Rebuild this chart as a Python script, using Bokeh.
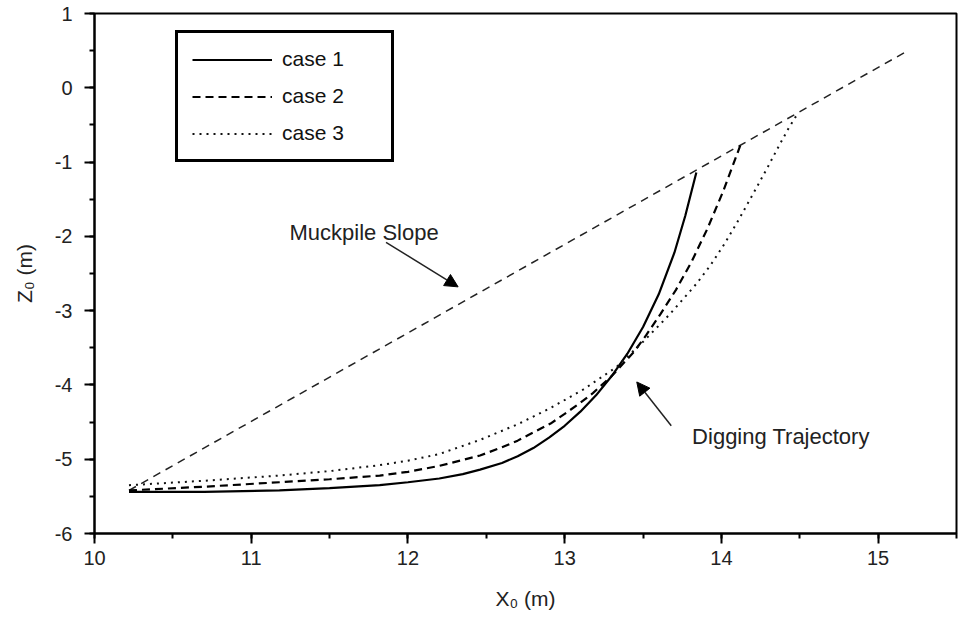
from bokeh.plotting import figure
from bokeh.models import (Range1d, SingleIntervalTicker, Legend, LegendItem,
                          Arrow, NormalHead, ColumnDataSource, PrintfTickFormatter)
from bokeh.core.properties import value
from bokeh.embed import file_html
from bokeh.resources import INLINE

# ---------------- data ----------------
case1_x = [10.22, 10.7, 11.18, 11.5, 11.82, 12.0, 12.2, 12.35, 12.46, 12.6, 12.7, 12.8,
           12.9, 13.0, 13.1, 13.2, 13.3, 13.4, 13.5, 13.6, 13.7, 13.77, 13.84]
case1_z = [-5.44, -5.44, -5.42, -5.39, -5.35, -5.31, -5.26, -5.20, -5.14, -5.05, -4.96, -4.85,
           -4.71, -4.55, -4.36, -4.14, -3.88, -3.58, -3.22, -2.78, -2.22, -1.72, -1.14]

case2_x = [10.22, 10.7, 11.18, 11.5, 11.82, 12.0, 12.2, 12.46, 12.6, 12.7, 12.8,
           12.91, 13.0, 13.1, 13.18, 13.3, 13.44, 13.52, 13.61, 13.71, 13.81, 13.91,
           14.01, 14.12]
case2_z = [-5.42, -5.37, -5.31, -5.27, -5.22, -5.17, -5.09, -4.95, -4.84, -4.75, -4.64,
           -4.52, -4.39, -4.24, -4.11, -3.88, -3.56, -3.33, -3.05, -2.72, -2.34, -1.90,
           -1.40, -0.78]

case3_x = [10.22, 10.7, 11.18, 11.5, 11.82, 12.0, 12.2, 12.46, 12.7, 12.91, 13.12,
           13.33, 13.5, 13.67, 13.84, 13.93, 14.02, 14.12, 14.22, 14.30, 14.37, 14.43, 14.48]
case3_z = [-5.35, -5.29, -5.22, -5.16, -5.08, -5.02, -4.93, -4.74, -4.53, -4.31, -4.06,
           -3.76, -3.42, -3.05, -2.64, -2.39, -2.10, -1.74, -1.36, -1.05, -0.77, -0.54, -0.37]

slope_x = [10.22, 15.19]
slope_z = [-5.42, 0.50]

series_names = ["case 1", "case 2", "case 3"]

ann_text = ["Muckpile Slope", "Digging Trajectory"]
ann_x = [11.72, 14.38]
ann_z = [-1.95, -4.70]
arrow_x0 = [11.86, 13.68]
arrow_z0 = [-2.08, -4.55]
arrow_x1 = [12.32, 13.46]
arrow_z1 = [-2.68, -3.96]

x_limits = (10, 15.5)
z_limits = (-6, 1)

FONT = "Liberation Sans"

p = figure(width=959, height=623, output_backend="svg", toolbar_location=None,
           x_range=Range1d(*x_limits), y_range=Range1d(*z_limits),
           min_border_left=94, min_border_right=3, min_border_top=13,
           min_border_bottom=90)
p.background_fill_color = "white"
p.border_fill_color = "white"
p.grid.visible = False
p.outline_line_color = "black"
p.outline_line_width = 2

p.xaxis.ticker = SingleIntervalTicker(interval=1, num_minor_ticks=2)
p.yaxis.ticker = SingleIntervalTicker(interval=1, num_minor_ticks=2)
p.xaxis.formatter = PrintfTickFormatter(format="%d")
p.yaxis.formatter = PrintfTickFormatter(format="%d")
for ax in (p.xaxis[0], p.yaxis[0]):
    ax.axis_line_width = 2
    ax.axis_line_color = "black"
    ax.major_tick_line_width = 2
    ax.minor_tick_line_width = 2
    ax.major_tick_out = 10
    ax.major_tick_in = 0
    ax.minor_tick_out = 5
    ax.minor_tick_in = 0
    ax.major_label_text_font = FONT
    ax.major_label_text_font_size = "20px"
    ax.major_label_text_color = "#222222"
    ax.axis_label_text_font = FONT
    ax.axis_label_text_font_size = "21px"
    ax.axis_label_text_font_style = "normal"
    ax.axis_label_text_color = "#222222"
p.xaxis.axis_label = "X\u2080 (m)"
p.yaxis.axis_label = "Z\u2080 (m)"
p.xaxis.major_label_standoff = 7
p.yaxis.major_label_standoff = 12
p.xaxis.axis_label_standoff = 19
p.yaxis.axis_label_standoff = 16

# muckpile slope
p.line(slope_x, slope_z, line_color="#222222", line_width=1.5, line_dash="8 6")

r1 = p.line(case1_x, case1_z, line_color="black", line_width=2.2)
r2 = p.line(case2_x, case2_z, line_color="black", line_width=2.2, line_dash="8 5")
r3 = p.line(case3_x, case3_z, line_color="#111111", line_width=2, line_dash="2 5")

src = ColumnDataSource(dict(x=ann_x, y=ann_z, t=ann_text))
p.text(x="x", y="y", text="t", source=src, text_font=value(FONT),
       text_font_size="22px", text_color="#222222", text_baseline="middle",
       text_align="center")

for i in range(len(arrow_x0)):
    p.add_layout(Arrow(end=NormalHead(size=13, fill_color="black",
                                      line_color="black"),
                       x_start=arrow_x0[i], y_start=arrow_z0[i],
                       x_end=arrow_x1[i], y_end=arrow_z1[i],
                       line_color="#222222", line_width=1.5))

legend = Legend(items=[LegendItem(label=series_names[0], renderers=[r1]),
                       LegendItem(label=series_names[1], renderers=[r2]),
                       LegendItem(label=series_names[2], renderers=[r3])],
                location=(81, 371))
legend.glyph_width = 80
legend.glyph_height = 21
legend.label_height = 21
legend.label_width = 95
legend.label_standoff = 10
legend.padding = 14
legend.spacing = 13
legend.margin = 0
legend.border_line_color = "black"
legend.border_line_alpha = 1
legend.border_line_width = 3
legend.label_text_font = FONT
legend.label_text_font_size = "21px"
legend.label_text_color = "#111111"
legend.background_fill_alpha = 1
p.add_layout(legend, "center")

open("out.html", "w").write(file_html(p, INLINE))
